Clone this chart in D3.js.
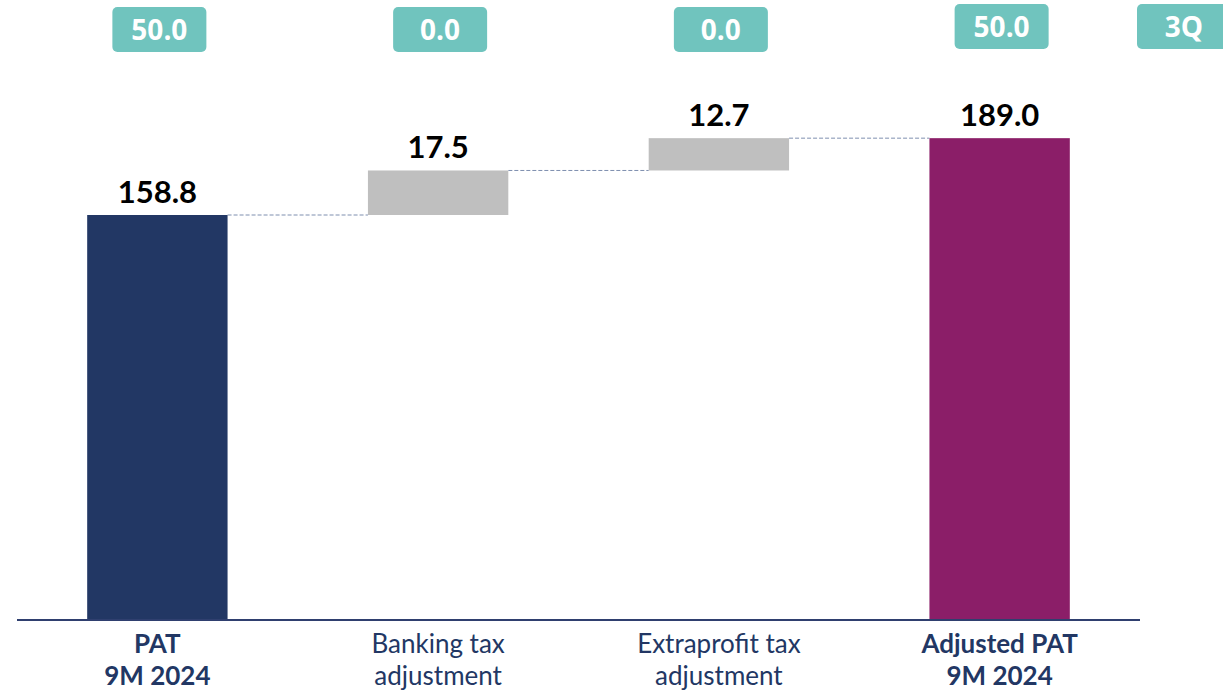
<!DOCTYPE html>
<html>
<head>
<meta charset="utf-8">
<script src="https://cdn.jsdelivr.net/npm/d3@7"></script>
<style>
  body { margin: 0; background: #fff; }
  svg { display: block; }
</style>
</head>
<body>
<div id="chart"></div>
<script>
// waterfall data
let categories = [["PAT", "9M 2024"], ["Banking tax", "adjustment"], ["Extraprofit tax", "adjustment"], ["Adjusted PAT", "9M 2024"]];
let steps = [158.8, 17.5, 12.7, 189.0];
let kinds = ["total", "delta", "delta", "total"];
let badgeLabels = ["50.0", "0.0", "0.0", "50.0", "3Q"];

let width = 1223, height = 691;
let baseY = 619;
let colors = { first: "#223764", delta: "#BFBFBF", last: "#8B1E68" };

let svg = d3.select("#chart").append("svg")
    .attr("width", width)
    .attr("height", height);

let x = d3.scaleBand()
    .domain(d3.range(categories.length))
    .range([17, 1140])
    .paddingInner(0.5)
    .paddingOuter(0.25);

let y = d3.scaleLinear()
    .domain([0, 158.8])
    .range([baseY, 215]);

// compute start / end of each bar
let running = 0;
let bars = steps.map(function (v, i) {
    let b;
    if (kinds[i] === "total") {
        b = { i: i, y0: 0, y1: v, v: v };
        running = v;
    } else {
        b = { i: i, y0: running, y1: running + v, v: v };
        running += v;
    }
    return b;
});

function barColor(d) {
    if (d.i === 0) return colors.first;
    if (d.i === bars.length - 1) return colors.last;
    return colors.delta;
}

// connectors
svg.selectAll(".conn")
    .data(bars.slice(0, -1))
    .enter().append("line")
    .attr("x1", function (d) { return x(d.i) + x.bandwidth(); })
    .attr("x2", function (d) { return x(d.i + 1); })
    .attr("y1", function (d) { return y(d.y1); })
    .attr("y2", function (d) { return y(d.y1); })
    .attr("stroke", "#7F8FAF")
    .attr("stroke-width", 1)
    .attr("stroke-dasharray", "4,2");

svg.selectAll(".bar")
    .data(bars)
    .enter().append("rect")
    .attr("x", function (d) { return x(d.i); })
    .attr("width", x.bandwidth())
    .attr("y", function (d) { return y(d.y1); })
    .attr("height", function (d) { return y(d.y0) - y(d.y1); })
    .attr("fill", barColor);

// value labels
svg.selectAll(".val")
    .data(bars)
    .enter().append("text")
    .attr("x", function (d) { return x(d.i) + x.bandwidth() / 2; })
    .attr("y", function (d) { return y(d.y1) - 12; })
    .attr("text-anchor", "middle")
    .style("font-family", "Lato, sans-serif")
    .style("font-weight", "bold")
    .style("font-size", "31px")
    .attr("fill", "#000")
    .text(function (d) { return d.v.toFixed(1); });

// axis line
svg.append("line")
    .attr("x1", x.range()[0]).attr("x2", x.range()[1])
    .attr("y1", baseY + 1).attr("y2", baseY + 1)
    .attr("stroke", "#2F3F6F")
    .attr("stroke-width", 2);

// category labels
let cat = svg.selectAll(".cat")
    .data(categories)
    .enter().append("text")
    .attr("text-anchor", "middle")
    .style("font-family", "Lato, sans-serif")
    .style("font-size", "26px")
    .style("font-weight", function (d, i) { return kinds[i] === "total" ? "bold" : "normal"; })
    .attr("fill", "#223764");
cat.selectAll("tspan")
    .data(function (d, i) { return d.map(function (t) { return { t: t, i: i }; }); })
    .enter().append("tspan")
    .attr("x", function (d) { return x(d.i) + x.bandwidth() / 2; })
    .attr("y", function (d, j) { return 653 + j * 32; })
    .text(function (d) { return d.t; });

// top badges
let badgeW = 94, badgeH = 45;
let badges = svg.selectAll(".badge")
    .data(badgeLabels)
    .enter().append("g")
    .attr("transform", function (d, i) {
        let cx = i < categories.length ? x(i) + x.bandwidth() / 2 + 2 : x.range()[1] + badgeW / 2 - 3;
        let top = i < 3 ? 7 : 4;
        return "translate(" + (cx - badgeW / 2) + "," + top + ")";
    });
badges.append("rect")
    .attr("width", badgeW)
    .attr("height", badgeH)
    .attr("rx", 5)
    .attr("fill", "#70C4BE");
badges.append("text")
    .attr("x", badgeW / 2)
    .attr("y", badgeH / 2 + 10)
    .attr("text-anchor", "middle")
    .style("font-family", "'Open Sans', sans-serif")
    .style("font-weight", "bold")
    .style("font-size", "28px")
    .attr("fill", "#fff")
    .text(function (d) { return d; });
</script>
</body>
</html>
